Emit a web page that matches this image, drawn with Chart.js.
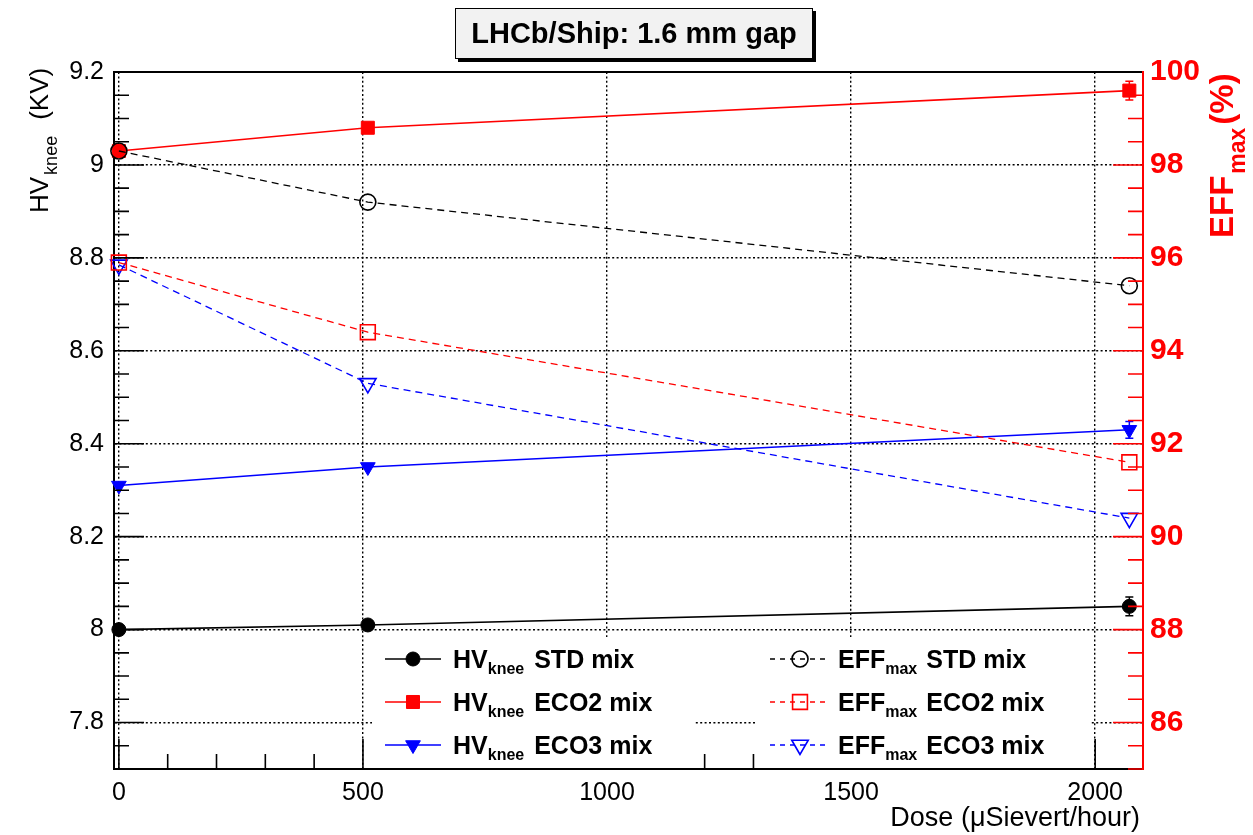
<!DOCTYPE html>
<html>
<head>
<meta charset="utf-8">
<title>HV knee and max efficiency vs dose</title>
<script src="https://cdn.jsdelivr.net/npm/chart.js@4"></script>
<style>
  html, body { margin: 0; padding: 0; background: #fff; }
  #wrap { width: 1253px; height: 835px; }
</style>
</head>
<body>
<div id="wrap"><canvas id="chart" width="1253" height="835"></canvas></div>
<script>
const FONT = '"Liberation Sans", Helvetica, Arial, sans-serif';

// dose points (uSv/h)
const doses = [0, 510, 2070];
const mixNames = ['STD', 'ECO2', 'ECO3'];

// HV knee (kV), left axis
const hvStd = [8.00, 8.01, 8.05];
const hvEco2 = [9.03, 9.08, 9.16];
const hvEco3 = [8.31, 8.35, 8.43];
const hvStdErr = [0, 0, 0.02];
const hvEco2Err = [0, 0, 0.02];
const hvEco3Err = [0, 0, 0.018];

// max efficiency (%), right axis
const effStd = [98.3, 97.2, 95.4];
const effEco2 = [95.9, 94.4, 91.6];
const effEco3 = [95.85, 93.3, 90.4];

const xTicks = [0, 500, 1000, 1500, 2000];
const hvTicks = [7.8, 8.0, 8.2, 8.4, 8.6, 8.8, 9.0, 9.2];
const effTicks = [86, 88, 90, 92, 94, 96, 98, 100];

const hvStyle = [
  { color: '#000000', pointStyle: 'circle', radius: 7, rotation: 0 },
  { color: '#ff0000', pointStyle: 'rect', radius: 9.2, rotation: 0 },
  { color: '#0000ff', pointStyle: 'triangle', radius: 8.5, rotation: 180 },
];
const effStyle = [
  { color: '#000000', pointStyle: 'circle', radius: 8, rotation: 0 },
  { color: '#ff0000', pointStyle: 'rect', radius: 10.5, rotation: 0 },
  { color: '#0000ff', pointStyle: 'triangle', radius: 9.5, rotation: 180 },
];

function pts(ys) {
  return doses.map((x, i) => ({ x, y: ys[i] }));
}

function hvDataset(name, ys, errs, st) {
  return {
    label: 'HV knee ' + name + ' mix',
    data: pts(ys),
    errors: errs,
    yAxisID: 'y',
    order: 2,
    clip: false,
    borderColor: st.color,
    backgroundColor: st.color,
    borderWidth: 1.6,
    pointStyle: st.pointStyle,
    pointRadius: st.radius,
    pointRotation: st.rotation,
    pointBackgroundColor: st.color,
    pointBorderColor: st.color,
    pointBorderWidth: 1,
  };
}

function effDataset(name, ys, st) {
  return {
    label: 'EFF max ' + name + ' mix',
    data: pts(ys),
    yAxisID: 'y2',
    order: 1,
    clip: false,
    borderColor: st.color,
    backgroundColor: 'rgba(0,0,0,0)',
    borderWidth: 1.3,
    borderDash: [7, 5],
    pointStyle: st.pointStyle,
    pointRadius: st.radius,
    pointRotation: st.rotation,
    pointBackgroundColor: 'rgba(0,0,0,0)',
    pointBorderColor: st.color,
    pointBorderWidth: 1.6,
  };
}

const datasets = [
  hvDataset(mixNames[0], hvStd, hvStdErr, hvStyle[0]),
  hvDataset(mixNames[1], hvEco2, hvEco2Err, hvStyle[1]),
  hvDataset(mixNames[2], hvEco3, hvEco3Err, hvStyle[2]),
  effDataset(mixNames[0], effStd, effStyle[0]),
  effDataset(mixNames[1], effEco2, effStyle[1]),
  effDataset(mixNames[2], effEco3, effStyle[2]),
];

// write a run of text pieces (for subscripts) starting at x, baseline y
function drawRun(ctx, x, y, parts) {
  let cx = x;
  parts.forEach(p => {
    cx += p.gap || 0;
    ctx.font = p.font;
    ctx.fillText(p.text, cx, y + (p.dy || 0));
    cx += ctx.measureText(p.text).width;
  });
  return cx;
}

// inward ticks, major and minor, like a ROOT frame
function axisTicks(scale, minor, major, cb) {
  const k0 = Math.ceil(scale.min / minor - 1e-9);
  const k1 = Math.floor(scale.max / minor + 1e-9);
  for (let k = k0; k <= k1; k++) {
    const v = k * minor;
    const r = v / major;
    cb(scale.getPixelForValue(v), Math.abs(r - Math.round(r)) < 1e-6);
  }
}

const rootStyle = {
  id: 'rootStyle',
  beforeDatasetsDraw(chart) {
    const ctx = chart.ctx;
    const xs = chart.scales.x;
    chart.data.datasets.forEach(ds => {
      if (!ds.errors) return;
      const ys = chart.scales[ds.yAxisID];
      ctx.save();
      ctx.strokeStyle = ds.borderColor;
      ctx.lineWidth = 1.5;
      ds.data.forEach((p, j) => {
        const e = ds.errors[j];
        if (!e) return;
        const px = xs.getPixelForValue(p.x);
        const y1 = ys.getPixelForValue(p.y - e);
        const y2 = ys.getPixelForValue(p.y + e);
        ctx.beginPath();
        ctx.moveTo(px, y1); ctx.lineTo(px, y2);
        ctx.moveTo(px - 4, y1); ctx.lineTo(px + 4, y1);
        ctx.moveTo(px - 4, y2); ctx.lineTo(px + 4, y2);
        ctx.stroke();
      });
      ctx.restore();
    });
  },
  afterDraw(chart) {
    const ctx = chart.ctx;
    const { left, right, top, bottom } = chart.chartArea;
    const { x, y, y2 } = chart.scales;

    ctx.save();
    // ticks
    ctx.lineWidth = 1.6;
    ctx.strokeStyle = '#000';
    ctx.beginPath();
    axisTicks(x, 100, 500, (px, big) => {
      ctx.moveTo(px, bottom); ctx.lineTo(px, bottom - (big ? 30 : 15));
    });
    axisTicks(y, 0.05, 0.2, (py, big) => {
      ctx.moveTo(left, py); ctx.lineTo(left + (big ? 30 : 15), py);
    });
    ctx.stroke();
    ctx.strokeStyle = '#ff0000';
    ctx.beginPath();
    axisTicks(y2, 0.5, 2, (py, big) => {
      ctx.moveTo(right, py); ctx.lineTo(right - (big ? 30 : 15), py);
    });
    ctx.stroke();

    // top edge of the frame
    ctx.strokeStyle = '#000';
    ctx.lineWidth = 2;
    ctx.beginPath();
    ctx.moveTo(left, top); ctx.lineTo(right - 1, top);
    ctx.stroke();

    // legend, two white panels
    ctx.fillStyle = '#fff';
    ctx.fillRect(372, 637, 323, 131);
    ctx.fillRect(757, 637, 333, 131);
    const rows = [659, 702, 745];
    const H = Chart.helpers;
    rows.forEach((ry, i) => {
      const hs = hvStyle[i];
      ctx.setLineDash([]);
      ctx.strokeStyle = hs.color;
      ctx.lineWidth = 1.6;
      ctx.beginPath(); ctx.moveTo(385, ry); ctx.lineTo(441, ry); ctx.stroke();
      ctx.fillStyle = hs.color;
      ctx.lineWidth = 1;
      H.drawPoint(ctx, { pointStyle: hs.pointStyle, rotation: hs.rotation, radius: hs.radius, borderWidth: 1 }, 413, ry);

      const es = effStyle[i];
      ctx.strokeStyle = es.color;
      ctx.lineWidth = 1.3;
      ctx.setLineDash([5, 5]);
      ctx.beginPath(); ctx.moveTo(770, ry); ctx.lineTo(830, ry); ctx.stroke();
      ctx.setLineDash([]);
      ctx.fillStyle = 'rgba(0,0,0,0)';
      ctx.lineWidth = 1.6;
      H.drawPoint(ctx, { pointStyle: es.pointStyle, rotation: es.rotation, radius: es.radius, borderWidth: 1.6 }, 800, ry);

      ctx.fillStyle = '#000';
      ctx.textBaseline = 'alphabetic';
      ctx.textAlign = 'left';
      drawRun(ctx, 453, ry + 9, [
        { text: 'HV', font: 'bold 25px ' + FONT },
        { text: 'knee', font: 'bold 16px ' + FONT, dy: 6 },
        { text: mixNames[i] + ' mix', font: 'bold 25px ' + FONT, gap: 10 },
      ]);
      drawRun(ctx, 838, ry + 9, [
        { text: 'EFF', font: 'bold 25px ' + FONT },
        { text: 'max', font: 'bold 16px ' + FONT, dy: 6 },
        { text: mixNames[i] + ' mix', font: 'bold 25px ' + FONT, gap: 9 },
      ]);
    });

    // title box with shadow
    ctx.fillStyle = '#000';
    ctx.fillRect(458, 11, 358, 51);
    ctx.fillStyle = '#f2f2f2';
    ctx.fillRect(455, 8, 358, 51);
    ctx.strokeStyle = '#000';
    ctx.lineWidth = 1;
    ctx.strokeRect(455.5, 8.5, 357, 50);
    ctx.fillStyle = '#000';
    ctx.font = 'bold 29px ' + FONT;
    ctx.textAlign = 'center';
    ctx.textBaseline = 'middle';
    ctx.fillText('LHCb/Ship: 1.6 mm gap', 634, 35);

    // axis titles
    ctx.textAlign = 'left';
    ctx.textBaseline = 'alphabetic';
    ctx.save();
    ctx.translate(48, 213);
    ctx.rotate(-Math.PI / 2);
    ctx.fillStyle = '#000';
    drawRun(ctx, 0, 0, [
      { text: 'HV', font: '26px ' + FONT },
      { text: 'knee', font: '18px ' + FONT, dy: 9, gap: 2 },
      { text: '(KV)', font: '26px ' + FONT, gap: 16 },
    ]);
    ctx.restore();

    ctx.save();
    ctx.translate(1233, 238);
    ctx.rotate(-Math.PI / 2);
    ctx.fillStyle = '#ff0000';
    drawRun(ctx, 0, 0, [
      { text: 'EFF', font: 'bold 33px ' + FONT },
      { text: 'max', font: 'bold 23px ' + FONT, dy: 12, gap: 2 },
      { text: '(%)', font: 'bold 33px ' + FONT, gap: 3 },
    ]);
    ctx.restore();

    ctx.fillStyle = '#000';
    ctx.font = '27px ' + FONT;
    ctx.textAlign = 'right';
    ctx.fillText('Dose (\u03bcSievert/hour)', 1140, 826);
    ctx.restore();
  },
};

new Chart(document.getElementById('chart'), {
  type: 'line',
  data: { datasets },
  options: {
    responsive: false,
    animation: false,
    events: [],
    layout: { padding: { top: 72, left: 0, right: 0, bottom: 0 } },
    plugins: { legend: { display: false }, tooltip: { enabled: false } },
    elements: { line: { tension: 0 } },
    scales: {
      x: {
        type: 'linear',
        min: -10,
        max: 2098,
        afterBuildTicks: s => { s.ticks = xTicks.map(value => ({ value })); },
        afterFit: s => { s.height = 66; },
        grid: { color: '#000', lineWidth: 1.4, drawTicks: false },
        border: { color: '#000', width: 2, dash: [2, 2.4] },
        ticks: {
          font: { family: FONT, size: 25 }, color: '#000', padding: 9,
          maxRotation: 0, autoSkip: false, callback: v => String(v),
        },
      },
      y: {
        type: 'linear',
        position: 'left',
        min: 7.7,
        max: 9.2,
        afterBuildTicks: s => { s.ticks = hvTicks.map(value => ({ value })); },
        afterFit: s => { s.width = 114; },
        grid: { color: '#000', lineWidth: 1.4, drawTicks: false },
        border: { color: '#000', width: 2, dash: [2, 2.4] },
        ticks: {
          font: { family: FONT, size: 25 }, color: '#000', padding: 10,
          autoSkip: false, callback: v => String(Math.round(v * 100) / 100),
        },
      },
      y2: {
        type: 'linear',
        position: 'right',
        min: 85,
        max: 100,
        afterBuildTicks: s => { s.ticks = effTicks.map(value => ({ value })); },
        afterFit: s => { s.width = 110; },
        grid: { drawOnChartArea: false, drawTicks: false },
        border: { color: '#ff0000', width: 2 },
        ticks: {
          font: { family: FONT, size: 30, weight: 'bold' }, color: '#ff0000', padding: 7,
          autoSkip: false, callback: v => String(v),
        },
      },
    },
  },
  plugins: [rootStyle],
});
</script>
</body>
</html>
